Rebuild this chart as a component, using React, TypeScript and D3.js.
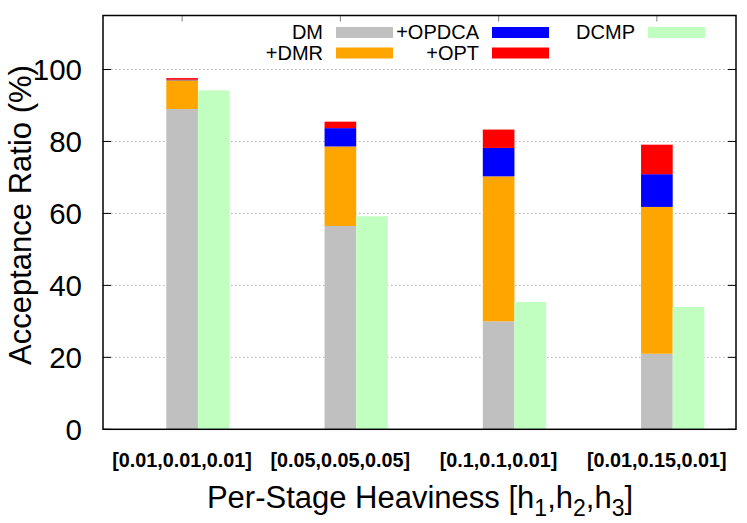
import React from "react";
import * as d3 from "d3";

const categories = ["[0.01,0.01,0.01]", "[0.05,0.05,0.05]", "[0.1,0.1,0.01]", "[0.01,0.15,0.01]"];
const dmValues = [89, 56.5, 30, 21];
const dmrIncrement = [8, 22.1, 40.3, 40.8];
const opdcaIncrement = [0.15, 5.1, 7.9, 9.1];
const optIncrement = [0.45, 1.8, 5.1, 8.2];
const dcmpValues = [94.2, 59.2, 35.4, 34];
const yTicks = [0, 20, 40, 60, 80, 100];
const stackKeys = ["DM", "+DMR", "+OPDCA", "+OPT"];
const colors: Record<string, string> = {
  DM: "#c0c0c0",
  "+DMR": "#ffa500",
  "+OPDCA": "#0000ff",
  "+OPT": "#ff0000",
  DCMP: "#c0ffc0",
};

const W = 747;
const H = 523;
const left = 103;
const right = 736;
const top = 15.5;
const bottom = 429.3;
const FONT = "'Liberation Sans', Arial, Helvetica, sans-serif";

export default function App() {
  const x = d3.scaleLinear().domain([-0.5, 3.5]).range([left, right]);
  const y = d3.scaleLinear().domain([0, 115]).range([bottom, top]);
  const barW = x(0.2) - x(0);

  const rows = categories.map((c, i) => ({
    cat: i,
    DM: dmValues[i],
    "+DMR": dmrIncrement[i],
    "+OPDCA": opdcaIncrement[i],
    "+OPT": optIncrement[i],
  }));
  const series = d3.stack<any>().keys(stackKeys)(rows);

  const legend = [
    { key: "DM", tx: 323, sx: 336, row: 0 },
    { key: "+DMR", tx: 323, sx: 336, row: 1 },
    { key: "+OPDCA", tx: 479, sx: 492, row: 0 },
    { key: "+OPT", tx: 479, sx: 492, row: 1 },
    { key: "DCMP", tx: 635, sx: 648, row: 0 },
  ];

  return (
    <svg width={W} height={H} style={{ position: "absolute", left: 0, top: 0, background: "#fff" }} fontFamily={FONT}>
      <rect x={0} y={0} width={W} height={H} fill="#fff" />
      {/* grid */}
      {yTicks.filter((t) => t > 0).map((t) => (
        <line key={"g" + t} x1={left} x2={right} y1={y(t)} y2={y(t)} stroke="#b0b0b0" strokeWidth={1} strokeDasharray="1.5,2.5" />
      ))}
      {/* stacked bars */}
      {series.map((s) =>
        s.map((d, i) => (
          <rect
            key={s.key + i}
            x={x(i) - barW / 2}
            y={y(d[1])}
            width={barW}
            height={Math.max(0, y(d[0]) - y(d[1]))}
            fill={colors[s.key]}
          />
        ))
      )}
      {/* DCMP bars */}
      {dcmpValues.map((v, i) => (
        <rect key={"dc" + i} x={x(i) + barW / 2} y={y(v)} width={barW} height={y(0) - y(v)} fill={colors.DCMP} />
      ))}
      {/* ticks */}
      {yTicks.map((t) => (
        <g key={"t" + t}>
          <line x1={left} x2={left + 8} y1={y(t)} y2={y(t)} stroke="#000" strokeWidth={1} />
          <line x1={right} x2={right - 8} y1={y(t)} y2={y(t)} stroke="#000" strokeWidth={1} />
          <text x={82} y={y(t)} dy="0.36em" textAnchor="end" fontSize={29.5} fill="#000">
            {t}
          </text>
        </g>
      ))}
      {categories.map((c, i) => (
        <g key={"c" + i}>
          <line x1={x(i)} x2={x(i)} y1={top} y2={top + 6} stroke="#808080" strokeWidth={1} />
          <text x={x(i)} y={467} textAnchor="middle" fontSize={19.8} fontWeight="bold" fill="#000">
            {c}
          </text>
        </g>
      ))}
      {/* frame */}
      <rect x={left} y={top} width={right - left} height={bottom - top} fill="none" stroke="#000" strokeWidth={1.5} />
      {/* legend */}
      {legend.map((l) => {
        const yy = 27 + l.row * 20.5;
        return (
          <g key={"l" + l.key}>
            <text x={l.tx} y={yy + 12} textAnchor="end" fontSize={20} fill="#000">
              {l.key}
            </text>
            <rect x={l.sx} y={yy} width={57} height={11} fill={colors[l.key]} />
          </g>
        );
      })}
      {/* axis titles */}
      <text transform={`translate(31,215) rotate(-90)`} textAnchor="middle" fontSize={31} fill="#000">
        Acceptance Ratio (%)
      </text>
      <text x={420} y={508} textAnchor="middle" fontSize={31} fill="#000">
        Per-Stage Heaviness [h<tspan fontSize={23} dy={8}>1</tspan>
        <tspan dy={-8}>,h</tspan>
        <tspan fontSize={23} dy={8}>2</tspan>
        <tspan dy={-8}>,h</tspan>
        <tspan fontSize={23} dy={8}>3</tspan>
        <tspan dy={-8}>]</tspan>
      </text>
    </svg>
  );
}
